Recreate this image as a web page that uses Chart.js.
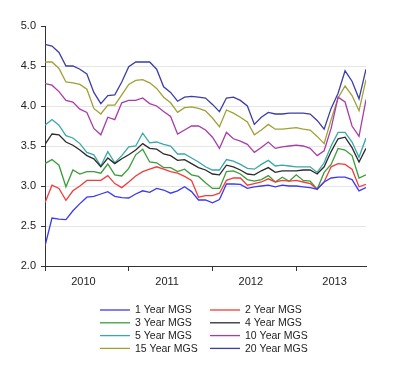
<!DOCTYPE html>
<html lang="en">

<head>
    <meta charset="UTF-8" />
    <title>MGS yields</title>
    <script src="https://cdn.jsdelivr.net/npm/chart.js"></script>
    <style>
        body {
            margin: 0;
            background: #fff;
        }

        #wrap {
            width: 400px;
            height: 381px;
        }
    </style>
</head>

<body>
    <div id="wrap"><canvas id="mgsChart" width="400" height="381"></canvas></div>

    <script>
        // monthly observations, Jan 2010 .. Nov 2013
        const months = [
            '2010-01', '2010-02', '2010-03', '2010-04', '2010-05', '2010-06', '2010-07', '2010-08', '2010-09', '2010-10', '2010-11', '2010-12',
            '2011-01', '2011-02', '2011-03', '2011-04', '2011-05', '2011-06', '2011-07', '2011-08', '2011-09', '2011-10', '2011-11', '2011-12',
            '2012-01', '2012-02', '2012-03', '2012-04', '2012-05', '2012-06', '2012-07', '2012-08', '2012-09', '2012-10', '2012-11', '2012-12',
            '2013-01', '2013-02', '2013-03', '2013-04', '2013-05', '2013-06', '2013-07', '2013-08', '2013-09', '2013-10', '2013-11'
        ];

        const years = ['2010', '2011', '2012', '2013'];
        const yTicks = [2.0, 2.5, 3.0, 3.5, 4.0, 4.5, 5.0];

        const seriesNames = ['1 Year MGS', '2 Year MGS', '3 Year MGS', '4 Year MGS', '5 Year MGS', '10 Year MGS', '15 Year MGS', '20 Year MGS'];
        const seriesColors = ['#3a3af2', '#f23c3c', '#3a9c3a', '#2b2b2b', '#38a8a8', '#a83ca8', '#a0a034', '#3d3da6'];

        const mgs1y = [2.25, 2.60, 2.585, 2.58, 2.69, 2.78, 2.86, 2.87, 2.90, 2.93, 2.87, 2.855,
            2.85, 2.90, 2.94, 2.92, 2.97, 2.95, 2.91, 2.94, 2.99, 2.93, 2.825, 2.825,
            2.79, 2.83, 3.025, 3.025, 3.02, 2.97, 2.99, 3.00, 3.01, 2.99, 3.01, 3.00,
            3.00, 2.99, 2.98, 2.96, 3.05, 3.10, 3.11, 3.11, 3.08, 2.94, 2.98];
        const mgs2y = [2.79, 3.01, 2.97, 2.82, 2.94, 3.00, 3.07, 3.07, 3.07, 3.13, 3.03, 2.98,
            3.05, 3.125, 3.18, 3.21, 3.24, 3.21, 3.18, 3.16, 3.12, 3.07, 2.86, 2.88,
            2.88, 2.91, 3.07, 3.10, 3.10, 3.01, 3.03, 3.05, 3.09, 3.05, 3.07, 3.06,
            3.07, 3.05, 3.03, 2.96, 3.05, 3.24, 3.28, 3.27, 3.21, 2.99, 3.02];
        const mgs3y = [3.28, 3.33, 3.26, 2.99, 3.20, 3.15, 3.18, 3.18, 3.16, 3.275, 3.14, 3.125,
            3.22, 3.39, 3.46, 3.30, 3.29, 3.23, 3.23, 3.18, 3.21, 3.14, 3.12, 3.04,
            2.97, 2.97, 3.18, 3.19, 3.15, 3.08, 3.06, 3.08, 3.13, 3.05, 3.11, 3.06,
            3.14, 3.07, 3.06, 2.96, 3.17, 3.27, 3.47, 3.45, 3.38, 3.10, 3.14];
        const mgs4y = [3.52, 3.65, 3.64, 3.55, 3.51, 3.45, 3.38, 3.34, 3.24, 3.35, 3.28, 3.34,
            3.39, 3.45, 3.53, 3.47, 3.46, 3.40, 3.38, 3.32, 3.33, 3.28, 3.23, 3.20,
            3.15, 3.14, 3.26, 3.24, 3.20, 3.15, 3.14, 3.19, 3.23, 3.17, 3.19, 3.19,
            3.19, 3.20, 3.20, 3.15, 3.24, 3.43, 3.59, 3.61, 3.48, 3.30, 3.47];
        const mgs5y = [3.76, 3.83, 3.76, 3.63, 3.60, 3.53, 3.42, 3.39, 3.25, 3.43, 3.29, 3.38,
            3.49, 3.50, 3.66, 3.54, 3.55, 3.52, 3.50, 3.40, 3.40, 3.35, 3.30, 3.24,
            3.20, 3.20, 3.33, 3.31, 3.27, 3.22, 3.21, 3.27, 3.32, 3.25, 3.26, 3.25,
            3.24, 3.24, 3.24, 3.17, 3.29, 3.50, 3.67, 3.67, 3.55, 3.36, 3.60];
        const mgs10y = [4.28, 4.26, 4.18, 4.07, 4.05, 3.96, 3.92, 3.72, 3.64, 3.86, 3.83, 4.04,
            4.07, 4.07, 4.10, 4.03, 4.00, 3.93, 3.87, 3.65, 3.70, 3.75, 3.75, 3.70,
            3.61, 3.47, 3.67, 3.59, 3.56, 3.52, 3.42, 3.48, 3.55, 3.47, 3.49, 3.50,
            3.51, 3.50, 3.47, 3.38, 3.44, 3.72, 4.11, 4.05, 3.75, 3.62, 4.08];
        const mgs15y = [4.55, 4.55, 4.47, 4.30, 4.29, 4.27, 4.21, 3.97, 3.90, 4.01, 4.01, 4.14,
            4.27, 4.32, 4.33, 4.29, 4.22, 4.11, 4.04, 3.92, 3.98, 3.99, 3.97, 3.94,
            3.85, 3.74, 3.95, 3.91, 3.86, 3.80, 3.64, 3.70, 3.77, 3.71, 3.71, 3.72,
            3.73, 3.71, 3.70, 3.62, 3.53, 3.83, 4.10, 4.25, 4.13, 3.94, 4.33];
        const mgs20y = [4.77, 4.75, 4.67, 4.50, 4.50, 4.46, 4.40, 4.17, 4.03, 4.13, 4.14, 4.30,
            4.49, 4.55, 4.55, 4.55, 4.46, 4.24, 4.17, 4.06, 4.11, 4.12, 4.11, 4.10,
            4.02, 3.93, 4.10, 4.11, 4.07, 4.00, 3.77, 3.86, 3.92, 3.90, 3.90, 3.91,
            3.91, 3.91, 3.90, 3.82, 3.71, 3.97, 4.16, 4.44, 4.31, 4.09, 4.46];

        const allSeries = [mgs1y, mgs2y, mgs3y, mgs4y, mgs5y, mgs10y, mgs15y, mgs20y];

        const FONT = 'Liberation Sans, Arial, sans-serif';
        const INK = '#222';

        // x positions: month index; years start at 0, 12, 24, 36, labels sit mid year
        const yearStarts = years.map((y, k) => k * 12);
        const yearMids = years.map((y, k) => k * 12 + 5.5);

        const datasets = allSeries.map((vals, i) => ({
            label: seriesNames[i],
            data: vals.map((v, j) => ({ x: j, y: v })),
            borderColor: seriesColors[i],
            backgroundColor: seriesColors[i],
            borderWidth: 1.3,
            pointRadius: 0,
            tension: 0,
            fill: false
        }));

        // legend drawn as two neat columns below the axis
        const gridLegend = {
            id: 'gridLegend',
            afterDraw(chart) {
                const ctx = chart.ctx;
                const cx = chart.width / 2;
                ctx.save();
                ctx.font = '10.5px ' + FONT;
                ctx.textBaseline = 'middle';
                ctx.fillStyle = INK;
                chart.data.datasets.forEach((ds, i) => {
                    const col = i % 2;
                    const row = Math.floor(i / 2);
                    const x0 = cx - 100 + col * 110;
                    const y = 310 + row * 12.8;
                    ctx.strokeStyle = ds.borderColor;
                    ctx.lineWidth = 1.3;
                    ctx.beginPath();
                    ctx.moveTo(x0, y);
                    ctx.lineTo(x0 + 30, y);
                    ctx.stroke();
                    ctx.fillText(ds.label, x0 + 35, y + 0.5);
                });
                ctx.restore();
            }
        };

        const ctx = document.getElementById('mgsChart').getContext('2d');

        new Chart(ctx, {
            type: 'line',
            data: { labels: months, datasets: datasets },
            plugins: [gridLegend],
            options: {
                responsive: false,
                animation: false,
                layout: {
                    padding: { top: 26, right: 34, bottom: 90, left: 0 }
                },
                plugins: {
                    legend: { display: false },
                    tooltip: { enabled: false }
                },
                scales: {
                    x: {
                        type: 'linear',
                        min: 0,
                        max: months.length - 1,
                        afterBuildTicks: scale => {
                            const vals = yearStarts.concat(yearMids).sort((a, b) => a - b);
                            scale.ticks = vals.map(v => ({ value: v }));
                        },
                        afterFit: scale => { scale.height = 25; },
                        border: { display: true, color: '#333', width: 1 },
                        grid: {
                            drawOnChartArea: false,
                            drawTicks: true,
                            tickLength: 5,
                            tickColor: c => (c.tick && yearStarts.includes(c.tick.value)) ? '#333' : 'rgba(0,0,0,0)'
                        },
                        ticks: {
                            autoSkip: false,
                            maxRotation: 0,
                            padding: 4,
                            color: INK,
                            font: { family: FONT, size: 11 },
                            callback: v => {
                                const k = yearMids.indexOf(v);
                                return k >= 0 ? years[k] : '';
                            }
                        }
                    },
                    y: {
                        min: 2.0,
                        max: 5.0,
                        afterBuildTicks: scale => {
                            scale.ticks = yTicks.map(v => ({ value: v }));
                        },
                        afterFit: scale => { scale.width = 45; },
                        border: { display: true, color: '#333', width: 1 },
                        grid: {
                            color: c => (c.tick && (c.tick.value === 2.0 || c.tick.value === 5.0)) ? 'rgba(0,0,0,0)' : '#e6e6e6',
                            lineWidth: 1,
                            tickLength: 4,
                            tickColor: '#333'
                        },
                        ticks: {
                            padding: 5,
                            color: INK,
                            font: { family: FONT, size: 11 },
                            callback: v => v.toFixed(1)
                        }
                    }
                }
            }
        });
    </script>
</body>

</html>
